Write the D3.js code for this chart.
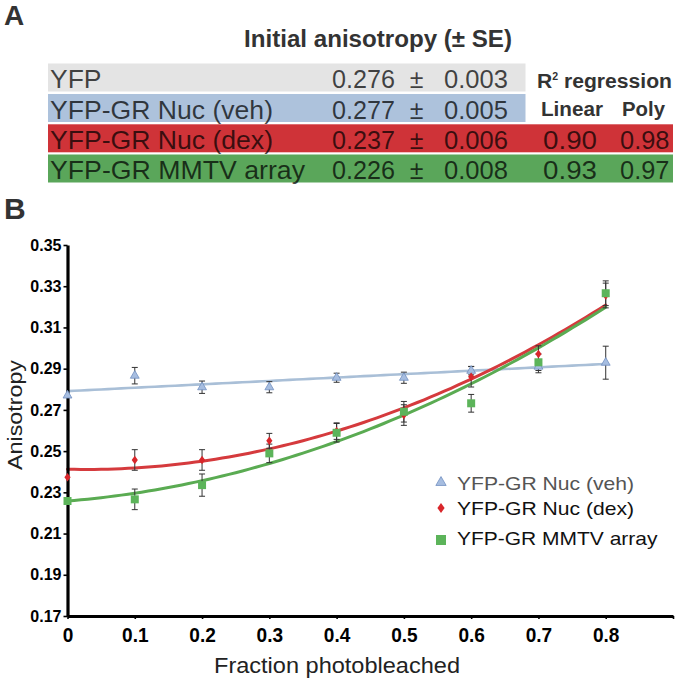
<!DOCTYPE html>
<html>
<head>
<meta charset="utf-8">
<script src="https://cdn.jsdelivr.net/npm/d3@7"></script>
<style>
  html, body { margin: 0; padding: 0; background: #fff; }
  svg { display: block; font-family: "Liberation Sans", Arial, Helvetica, sans-serif; }
</style>
</head>
<body>
<svg id="chart" width="677" height="680"></svg>
<script>
// ---------- data ----------
const tableRows = ["YFP", "YFP-GR Nuc (veh)", "YFP-GR Nuc (dex)", "YFP-GR MMTV array"];
const initMean = ["0.276", "0.277", "0.237", "0.226"];
const initSE = ["0.003", "0.005", "0.006", "0.008"];
const r2Linear = [null, null, "0.90", "0.93"];
const r2Poly = [null, null, "0.98", "0.97"];

const xVals = [0, 0.1, 0.2, 0.3, 0.4, 0.5, 0.6, 0.7, 0.8];
const vehMean = [0.277, 0.2866, 0.281, 0.281, 0.2856, 0.2856, 0.289, 0.291, 0.2929];
const vehSE = [0, 0.004, 0.003, 0.0027, 0.0022, 0.0027, 0.002, 0.003, 0.008];
const dexMean = [0.2373, 0.2457, 0.2457, 0.255, 0.2597, 0.2675, 0.2861, 0.2971, 0.3255];
const dexSE = [0, 0.005, 0.005, 0.0036, 0.004, 0.005, 0.005, 0.004, 0.006];
const mmtvMean = [0.2258, 0.2266, 0.2335, 0.2489, 0.2589, 0.2691, 0.2732, 0.2931, 0.3266];
const mmtvSE = [0, 0.005, 0.0054, 0.0045, 0.0045, 0.005, 0.0043, 0.004, 0.006];

// regression coefficients (c0 + c1 x + c2 x^2)
const vehFit = [0.2791, 0.0165, 0];
const dexFit = [0.2412, -0.0071, 0.1334];
const mmtvFit = [0.2258, 0.0265, 0.1138];

const legendLabels = ["YFP-GR Nuc (veh)", "YFP-GR Nuc (dex)", "YFP-GR MMTV array"];
const yTicks = [0.17, 0.19, 0.21, 0.23, 0.25, 0.27, 0.29, 0.31, 0.33, 0.35];
const xTicks = [0, 0.1, 0.2, 0.3, 0.4, 0.5, 0.6, 0.7, 0.8, 0.9];

// ---------- helpers ----------
const svg = d3.select("#chart");
svg.append("rect").attr("width", 677).attr("height", 680).attr("fill", "#fff");

function stretch(sel, k) {
  sel.each(function () {
    const w = this.getComputedTextLength();
    d3.select(this).attr("textLength", w * k).attr("lengthAdjust", "spacingAndGlyphs");
  });
  return sel;
}

// ---------- panel A ----------
svg.append("text").attr("x", 4).attr("y", 25).text("A")
  .attr("font-size", 28).attr("font-weight", "bold").attr("fill", "#333");

svg.append("text").attr("x", 244).attr("y", 46.5).text("Initial anisotropy (± SE)")
  .attr("font-size", 23.5).attr("font-weight", "bold").attr("fill", "#333")
  .attr("textLength", 268).attr("lengthAdjust", "spacingAndGlyphs");

const rowTop = [63.5, 94, 124.3, 154.5];
const rowColors = ["#e4e4e4", "#adc2dc", "#cf3338", "#5aa65a"];
const rowRight = [525.5, 525.5, 673, 673];

tableRows.forEach((name, i) => {
  svg.append("rect").attr("x", 48).attr("y", rowTop[i])
    .attr("width", rowRight[i] - 48).attr("height", 28).attr("fill", rowColors[i]);
  const base = rowTop[i] + 24.5;
  const tc = "rgba(0,0,0,0.72)";
  svg.append("text").attr("x", 50).attr("y", base).text(name)
    .attr("font-size", 25).attr("fill", tc)
    .attr("textLength", [51.5, 223, 223, 255][i]).attr("lengthAdjust", "spacingAndGlyphs");
  svg.append("text").attr("x", 332).attr("y", base).text(initMean[i])
    .attr("font-size", 25).attr("fill", tc)
    .attr("textLength", 63).attr("lengthAdjust", "spacingAndGlyphs");
  svg.append("text").attr("x", 416.5).attr("y", base).text("±")
    .attr("font-size", 25).attr("fill", tc).attr("text-anchor", "middle");
  svg.append("text").attr("x", 444).attr("y", base).text(initSE[i])
    .attr("font-size", 25).attr("fill", tc)
    .attr("textLength", 64).attr("lengthAdjust", "spacingAndGlyphs");
  if (r2Linear[i]) {
    svg.append("text").attr("x", 543).attr("y", base).text(r2Linear[i])
      .attr("font-size", 25).attr("fill", tc)
      .attr("textLength", 54).attr("lengthAdjust", "spacingAndGlyphs");
  }
  if (r2Poly[i]) {
    svg.append("text").attr("x", 620).attr("y", base).text(r2Poly[i])
      .attr("font-size", 25).attr("fill", tc)
      .attr("textLength", 49.5).attr("lengthAdjust", "spacingAndGlyphs");
  }
});

const r2 = svg.append("text").attr("x", 537).attr("y", 88)
  .attr("font-size", 20).attr("font-weight", "bold").attr("fill", "#333");
r2.append("tspan").text("R");
r2.append("tspan").text("2").attr("font-size", 10).attr("dy", -8);
r2.append("tspan").text(" regression").attr("dy", 8);
r2.attr("textLength", 135).attr("lengthAdjust", "spacingAndGlyphs");

svg.append("text").attr("x", 541).attr("y", 116).text("Linear")
  .attr("font-size", 20).attr("font-weight", "bold").attr("fill", "#333")
  .attr("textLength", 62).attr("lengthAdjust", "spacingAndGlyphs");
svg.append("text").attr("x", 622).attr("y", 116).text("Poly")
  .attr("font-size", 20).attr("font-weight", "bold").attr("fill", "#333")
  .attr("textLength", 43).attr("lengthAdjust", "spacingAndGlyphs");

// ---------- panel B ----------
svg.append("text").attr("x", 4).attr("y", 218.5).text("B")
  .attr("font-size", 30).attr("font-weight", "bold").attr("fill", "#333");

const x = d3.scaleLinear().domain([0, 0.9]).range([67.5, 673]);
const y = d3.scaleLinear().domain([0.17, 0.35]).range([616, 245]);

// fit lines
const fitSeries = [
  { c: vehFit, color: "#a9bfd7", w: 2.6 },
  { c: dexFit, color: "#d53a3d", w: 3 },
  { c: mmtvFit, color: "#5aab52", w: 3 }
];
const line = d3.line().x(d => x(d[0])).y(d => y(d[1]));
const xs = d3.range(0, 0.8001, 0.01);
fitSeries.forEach(s => {
  const pts = xs.map(v => [v, s.c[0] + s.c[1] * v + s.c[2] * v * v]);
  svg.append("path").attr("d", line(pts)).attr("fill", "none")
    .attr("stroke", s.color).attr("stroke-width", s.w).attr("stroke-linecap", "round");
});

// custom symbols
const diamondType = {
  draw(ctx, size) {
    const h = Math.sqrt(size) * 0.65, w = h * 0.72;
    ctx.moveTo(0, -h); ctx.lineTo(w, 0); ctx.lineTo(0, h); ctx.lineTo(-w, 0); ctx.closePath();
  }
};

const series = [
  { mean: vehMean, se: vehSE, type: d3.symbolTriangle, size: 34, fill: "#a6bde0", stroke: "#7290c2" },
  { mean: dexMean, se: dexSE, type: diamondType, size: 44, fill: "#d9262b", stroke: "none" },
  { mean: mmtvMean, se: mmtvSE, type: d3.symbolSquare, size: 64, fill: "#5cb45a", stroke: "none" }
];

// error bars
series.forEach(s => {
  const g = svg.append("g").attr("stroke", "#333").attr("stroke-width", 1);
  xVals.forEach((xv, i) => {
    if (!s.se[i]) return;
    const x0 = x(xv), y1 = y(s.mean[i] + s.se[i]), y2 = y(s.mean[i] - s.se[i]);
    g.append("line").attr("x1", x0).attr("x2", x0).attr("y1", y1).attr("y2", y2);
    g.append("line").attr("x1", x0 - 3).attr("x2", x0 + 3).attr("y1", y1).attr("y2", y1);
    g.append("line").attr("x1", x0 - 3).attr("x2", x0 + 3).attr("y1", y2).attr("y2", y2);
  });
});

// axes
const yAxis = svg.append("g").attr("transform", "translate(67.5,0)")
  .call(d3.axisLeft(y).tickValues(yTicks).tickSize(4).tickSizeOuter(0).tickPadding(2)
    .tickFormat(d3.format(".2f")));
yAxis.select(".domain").attr("stroke", "#000").attr("stroke-width", 3.2);
yAxis.selectAll(".tick line").attr("stroke", "#000").attr("stroke-width", 1.6);
yAxis.selectAll(".tick text").attr("font-size", 16).attr("font-weight", "bold")
  .attr("fill", "#000").attr("font-family", "Liberation Sans, Arial, sans-serif");

const xAxis = svg.append("g").attr("transform", "translate(0,616)")
  .call(d3.axisBottom(x).tickValues(xTicks).tickSize(3).tickSizeOuter(0).tickPadding(8)
    .tickFormat(d => d === 0.9 ? "" : (d === 0 ? "0" : d3.format(".1f")(d))));
xAxis.select(".domain").attr("stroke", "#000").attr("stroke-width", 3);
xAxis.selectAll(".tick line").attr("stroke", "#000").attr("stroke-width", 1.6);
const xt = xAxis.selectAll(".tick text").attr("font-size", 20.5).attr("font-weight", "bold")
  .attr("fill", "#000").attr("font-family", "Liberation Sans, Arial, sans-serif");
stretch(xt.filter(d => d !== 0.9), 0.93);

// markers
series.forEach(s => {
  svg.append("g").selectAll("path").data(xVals).join("path")
    .attr("transform", (d, i) => `translate(${x(d)},${y(s.mean[i])})`)
    .attr("d", d3.symbol().type(s.type).size(s.size))
    .attr("fill", s.fill).attr("stroke", s.stroke).attr("stroke-width", 0.8);
});

// axis titles
svg.append("text").attr("transform", "translate(21.5,415) rotate(-90)")
  .attr("text-anchor", "middle").text("Anisotropy")
  .attr("font-size", 20.5).attr("fill", "#222")
  .attr("textLength", 110).attr("lengthAdjust", "spacingAndGlyphs");

svg.append("text").attr("x", 337).attr("y", 673).attr("text-anchor", "middle")
  .text("Fraction photobleached").attr("font-size", 21.5).attr("fill", "#222")
  .attr("textLength", 246).attr("lengthAdjust", "spacingAndGlyphs");

// legend
const legY = [482.5, 508, 540];
const legBase = [489.5, 514.5, 544.5];
const legSizes = [46, 60, 100];
const legColors = ["#555", "#111", "#111"];
const legWidths = [177, 177, 200.5];
legendLabels.forEach((lab, i) => {
  const s = series[i];
  svg.append("path").attr("transform", `translate(441,${legY[i]})`)
    .attr("d", d3.symbol().type(s.type).size(legSizes[i]))
    .attr("fill", s.fill).attr("stroke", s.stroke).attr("stroke-width", 0.8);
  svg.append("text").attr("x", 457).attr("y", legBase[i]).text(lab)
    .attr("font-size", 19).attr("fill", legColors[i])
    .attr("textLength", legWidths[i]).attr("lengthAdjust", "spacingAndGlyphs");
});
</script>
</body>
</html>
